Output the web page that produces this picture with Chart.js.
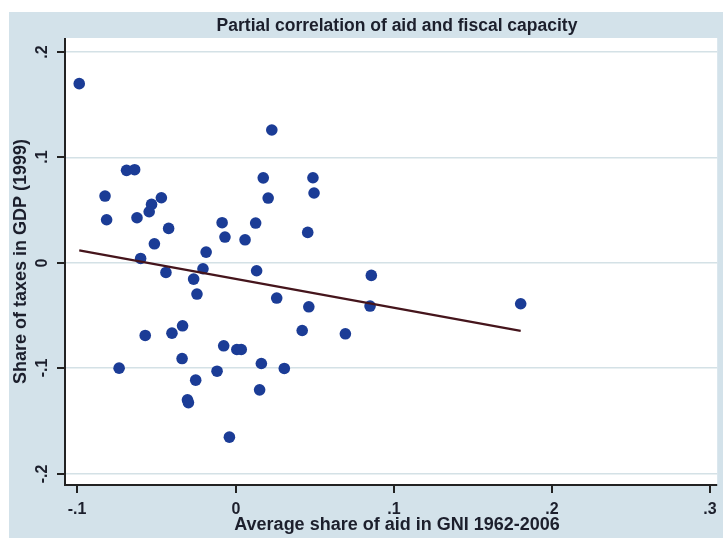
<!DOCTYPE html>
<html>
<head>
<meta charset="utf-8">
<script src="https://cdn.jsdelivr.net/npm/chart.js@4.4.1/dist/chart.umd.min.js"></script>
<style>
  html, body { margin: 0; padding: 0; background: #fff; }
  canvas { display: block; }
</style>
</head>
<body>
<canvas id="graph" width="723" height="538"></canvas>
<script>
// aid share (x) vs tax share (y), partialled out
const aidShare = [
  -0.0988, 0.0229, -0.0689, -0.0638, 0.0175, 0.0489, 0.0496, -0.0825, -0.0469, 0.0206,
  -0.0531, -0.0546, -0.0815, -0.0623, -0.0423, -0.0085, 0.0127, 0.0456, -0.0067, 0.0060,
  -0.0513, -0.0186, -0.0600, -0.0206, -0.0440, 0.0133, -0.0265, -0.0244, 0.0260, 0.0463,
  0.0858, 0.0850, 0.1802, -0.0335, -0.0571, -0.0402, 0.0421, 0.0694, -0.0075, 0.0008,
  0.0036, -0.0338, -0.0736, 0.0163, 0.0308, -0.0117, -0.0252, 0.0152, -0.0304, -0.0298,
  -0.0039
];
const taxShare = [
  0.170, 0.126, 0.0877, 0.0883, 0.0806, 0.0807, 0.0662, 0.0633, 0.0617, 0.0614,
  0.0554, 0.0484, 0.0408, 0.0427, 0.0326, 0.0380, 0.0377, 0.0288, 0.0244, 0.0218,
  0.0180, 0.0101, 0.0041, -0.0057, -0.0092, -0.0076, -0.0155, -0.0297, -0.0335, -0.0418,
  -0.0120, -0.0411, -0.0389, -0.0598, -0.0690, -0.0668, -0.0643, -0.0674, -0.0788, -0.0823,
  -0.0823, -0.0909, -0.1000, -0.0956, -0.1003, -0.1029, -0.1114, -0.1206, -0.1300, -0.1327,
  -0.1655
];

// fitted line endpoints
const fitX = [-0.0988, 0.1802];
const fitY = [0.0117, -0.0646];

const xTicks = [-0.1, 0, 0.1, 0.2, 0.3];
const xTickLabels = ['-.1', '0', '.1', '.2', '.3'];
const yTicks = [-0.2, -0.1, 0, 0.1, 0.2];
const yTickLabels = ['-.2', '-.1', '0', '.1', '.2'];

const titleText = 'Partial correlation of aid and fiscal capacity';
const xTitle = 'Average share of aid in GNI 1962-2006';
const yTitle = 'Share of taxes in GDP (1999)';

const regionColor = '#d3e2ea';
const inkColor = '#1c1f2c';
const fontFamily = '"Liberation Sans", Arial, sans-serif';

const frame = {
    id: 'frame',
    beforeDraw(chart) {
        const ctx = chart.ctx;
        const a = chart.chartArea;
        ctx.save();
        ctx.fillStyle = '#ffffff';
        ctx.fillRect(0, 0, chart.width, chart.height);
        ctx.fillStyle = regionColor;
        ctx.fillRect(9, 12, chart.width - 9, chart.height - 12);
        ctx.fillStyle = '#ffffff';
        ctx.fillRect(a.left, a.top, a.right - a.left, a.bottom - a.top);
        ctx.restore();
    },
    afterDraw(chart) {
        const ctx = chart.ctx;
        const a = chart.chartArea;
        const xs = chart.scales.x;
        const ys = chart.scales.y;
        ctx.save();
        ctx.strokeStyle = '#222222';
        ctx.lineWidth = 2;

        // axis lines
        ctx.beginPath();
        ctx.moveTo(a.left, a.top);
        ctx.lineTo(a.left, a.bottom);
        ctx.lineTo(a.right, a.bottom);
        ctx.stroke();

        ctx.fillStyle = inkColor;
        ctx.font = 'bold 16px ' + fontFamily;
        ctx.textAlign = 'center';
        ctx.textBaseline = 'middle';

        // x ticks
        xTicks.forEach((v, i) => {
            const px = Math.round(xs.getPixelForValue(v));
            ctx.beginPath();
            ctx.moveTo(px, a.bottom);
            ctx.lineTo(px, a.bottom + 8);
            ctx.stroke();
            ctx.fillText(xTickLabels[i], px, a.bottom + 25);
        });

        // y ticks, labels turned on their side
        yTicks.forEach((v, i) => {
            const py = Math.round(ys.getPixelForValue(v));
            ctx.beginPath();
            ctx.moveTo(a.left - 8, py);
            ctx.lineTo(a.left, py);
            ctx.stroke();
            ctx.save();
            ctx.translate(43, py);
            ctx.rotate(-Math.PI / 2);
            ctx.fillText(yTickLabels[i], 0, 0);
            ctx.restore();
        });

        // titles
        ctx.font = 'bold 18px ' + fontFamily;
        ctx.fillText(xTitle, 397, 525);
        ctx.save();
        ctx.translate(21, (a.top + a.bottom) / 2);
        ctx.rotate(-Math.PI / 2);
        ctx.fillText(yTitle, 0, 0);
        ctx.restore();

        ctx.font = 'bold 17.5px ' + fontFamily;
        ctx.fillText(titleText, 397, 26);
        ctx.restore();
    }
};

const canvas = document.getElementById('graph');
const ctx = canvas.getContext('2d');

const points = aidShare.map((x, i) => ({ x: x, y: taxShare[i] }));
const fitLine = fitX.map((x, i) => ({ x: x, y: fitY[i] }));

new Chart(ctx, {
    type: 'scatter',
    data: {
        datasets: [{
            type: 'line',
            data: fitLine,
            borderColor: '#45151c',
            borderWidth: 2.2,
            pointRadius: 0,
            fill: false,
            order: 0
        }, {
            data: points,
            backgroundColor: '#1b3c96',
            borderWidth: 0,
            pointRadius: 5.8,
            order: 1
        }]
    },
    options: {
        responsive: false,
        animation: false,
        events: [],
        layout: { padding: { left: 65, top: 38, right: 0, bottom: 53 } },
        plugins: {
            legend: { display: false },
            tooltip: { enabled: false }
        },
        scales: {
            x: {
                type: 'linear',
                min: -0.1078,
                max: 0.3044,
                grid: { display: false },
                border: { display: false },
                ticks: { display: false },
                afterBuildTicks: (s) => { s.ticks = xTicks.map(v => ({ value: v })); },
                afterFit: (s) => { s.height = 0; }
            },
            y: {
                type: 'linear',
                min: -0.2109,
                max: 0.2133,
                grid: { color: '#d4e1e6', lineWidth: 1.5, drawTicks: false },
                border: { display: false },
                ticks: { display: false },
                afterBuildTicks: (s) => { s.ticks = yTicks.map(v => ({ value: v })); },
                afterFit: (s) => { s.width = 0; }
            }
        }
    },
    plugins: [frame]
});
</script>
</body>
</html>
